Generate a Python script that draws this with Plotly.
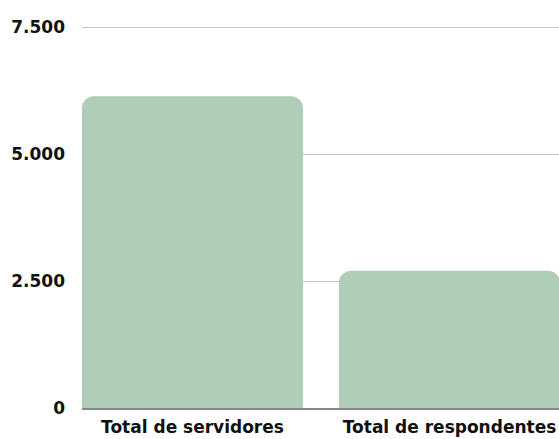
import plotly.graph_objects as go

categories = ["Total de servidores", "Total de respondentes"]
values = [6140, 2700]
tick_vals = [0, 2500, 5000, 7500]

bar_color = "#afcdb7"
font_family = "DejaVu Sans"

fig = go.Figure(
    go.Bar(
        x=[0, 1],
        y=values,
        width=0.86,
        marker=dict(color=bar_color, line=dict(width=0)),
        hoverinfo="skip",
    )
)

fig.update_layout(
    width=559,
    height=439,
    margin=dict(l=82, r=0, t=24, b=31),
    paper_bgcolor="white",
    plot_bgcolor="white",
    barcornerradius=12,
    separators=",.",
    showlegend=False,
    font=dict(family=font_family, color="#111111"),
)

fig.update_xaxes(
    range=[-0.43, 1.426],
    tickvals=[0, 1],
    ticktext=categories,
    tickfont=dict(size=17, family=font_family, weight="bold", color="#111111"),
    showgrid=False,
    showline=True,
    linecolor="#888888",
    linewidth=2,
    zeroline=False,
    ticks="",
    ticklabelstandoff=3,
)

fig.update_yaxes(
    range=[0, 7560],
    tickvals=tick_vals,
    tickformat=",.0f",
    tickfont=dict(size=17, family=font_family, weight="bold", color="#111111"),
    showgrid=True,
    gridcolor="#c4c4c4",
    gridwidth=1,
    zeroline=False,
    showline=False,
    ticks="",
    ticklabelstandoff=16,
)

fig.write_html(
    "out.html",
    config={"displayModeBar": False},
    post_script="document.body.style.margin='0';document.body.style.overflow='hidden';",
)
